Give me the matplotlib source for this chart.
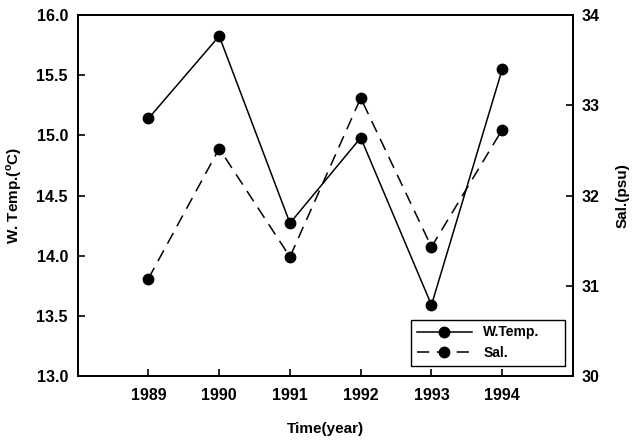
import matplotlib
matplotlib.use('Agg')
import matplotlib.pyplot as plt

years = [1989, 1990, 1991, 1992, 1993, 1994]
w_temp = [15.14, 15.825, 14.27, 14.98, 13.59, 15.55]
salinity = [31.08, 32.52, 31.32, 33.08, 31.43, 32.73]

plt.rcParams['font.family'] = ['Liberation Sans', 'DejaVu Sans']
plt.rcParams['font.weight'] = 'bold'
plt.rcParams['font.size'] = 11.5

fig = plt.figure(figsize=(6.35, 4.41), dpi=100)
ax = fig.add_axes([77.7 / 635, 1 - 376 / 441, (573 - 77.7) / 635, (376 - 15) / 441])
ax2 = ax.twinx()

l1, = ax.plot(years, w_temp, color='black', lw=1.1, marker='o', ms=7.5, label='W.Temp.')
l2, = ax2.plot(years, salinity, color='black', lw=1.1, ls=(0, (8, 5)), marker='o', ms=7.5, label='Sal.')

ax.set_xlim(1988, 1995)
ax.set_ylim(13.0, 16.0)
ax2.set_ylim(30, 34)
ax.set_xticks(years)
ax.set_yticks([13.0, 13.5, 14.0, 14.5, 15.0, 15.5, 16.0])
ax.set_yticklabels(['%.1f' % v for v in ax.get_yticks()])
ax2.set_yticks([30, 31, 32, 33, 34])

ax.tick_params(axis='y', direction='in', length=5, width=1.2, pad=7)
ax.tick_params(axis='x', direction='in', length=5, width=1.2, pad=9)
ax2.tick_params(direction='in', length=5, width=1.2, pad=6)
for a in (ax, ax2):
    for s in a.spines.values():
        s.set_linewidth(1.4)

ax.set_xlabel('Time(year)', fontweight='bold', fontsize=11, labelpad=13)
ax.set_ylabel('W. Temp.($^{\\mathregular{o}}$C)', fontweight='bold', fontsize=11, labelpad=9)
ax2.set_ylabel('Sal.(psu)', fontweight='bold', fontsize=11, rotation=90, labelpad=12)

leg = ax.legend(handles=[l1, l2], loc='lower left', bbox_to_anchor=(0.673, 0.028, 0.311, 0.152),
                mode='expand', fancybox=False, edgecolor='black', framealpha=1,
                handlelength=4, fontsize=10, borderaxespad=0)
leg.get_frame().set_linewidth(1.0)

fig.savefig('out.png', dpi=100)
